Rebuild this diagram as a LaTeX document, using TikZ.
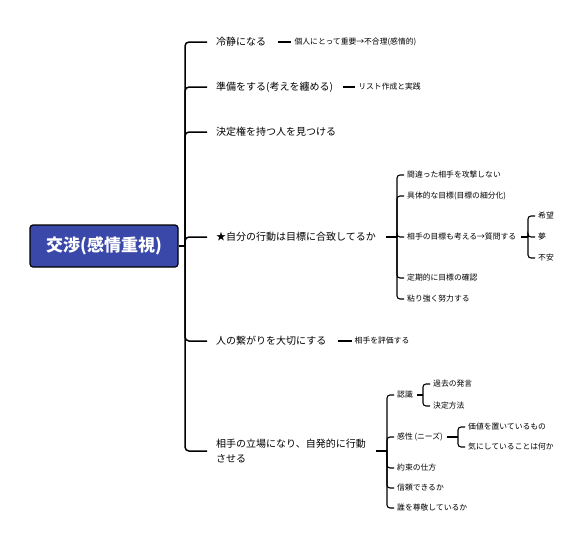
\documentclass[tikz,border=0pt]{standalone}
\usepackage{fontspec}
\setmainfont{Noto Sans CJK JP}
\usetikzlibrary{positioning}
\definecolor{rootblue}{RGB}{58,72,170}

\begin{document}
\begin{tikzpicture}[
  x=1pt, y=-1pt,
  root/.style={rectangle, draw, line width=1.2pt, rounded corners=3pt, fill=rootblue, text=white, minimum width=148pt, minimum height=42pt, font=\fontsize{17}{20}\selectfont\bfseries},
  topic/.style={inner sep=0pt, anchor=west, align=left, font=\fontsize{10}{14.5}\selectfont},
  leaf/.style={inner sep=0pt, anchor=west, font=\fontsize{7.8}{10}\selectfont},
  trunk/.style={line width=1.5pt, rounded corners=4pt},
  twig/.style={line width=1.1pt, rounded corners=3pt}
]
\useasboundingbox (0,0) rectangle (586,544);

\node[root] (root) at (104,246) {交渉(感情重視)};
\coordinate (spine) at (185,246);
\draw[trunk] (root.east) -- (spine);

\node[topic] (calm) at (216,42) {冷静になる};
\draw[trunk] (spine) |- ([xshift=-9pt]calm.west);
\node[leaf, right=28pt of calm] (calm_a) {個人にとって重要→不合理(感情的)};
\draw[twig] ([xshift=12pt]calm.east) -- ([xshift=-3pt]calm_a.west);

\node[topic] (prep) at (216,87) {準備をする(考えを纏める)};
\draw[trunk] (spine) |- ([xshift=-9pt]prep.west);
\node[leaf, right=25pt of prep] (prep_a) {リスト作成と実践};
\draw[twig] ([xshift=10pt]prep.east) -- ([xshift=-3pt]prep_a.west);

\node[topic] (decide) at (216,132) {決定権を持つ人を見つける};
\draw[trunk] (spine) |- ([xshift=-9pt]decide.west);

\node[topic] (goal) at (216,237) {★自分の行動は目標に合致してるか};
\draw[trunk] (spine) |- ([xshift=-9pt]goal.west);
\coordinate (goal_j) at (397,237);
\draw[twig] ([xshift=10pt]goal.east) -- (goal_j);

\node[leaf] (attack) at (407,175) {間違った相手を攻撃しない};
\draw[twig] (goal_j) |- ([xshift=-3pt]attack.west);
\node[leaf] (concrete) at (407,196) {具体的な目標(目標の細分化)};
\draw[twig] (goal_j) |- ([xshift=-3pt]concrete.west);
\node[leaf] (ask) at (407,237) {相手の目標も考える→質問する};
\draw[twig] (goal_j) |- ([xshift=-3pt]ask.west);
\node[leaf] (check) at (407,278) {定期的に目標の確認};
\draw[twig] (goal_j) |- ([xshift=-3pt]check.west);
\node[leaf] (effort) at (407,299) {粘り強く努力する};
\draw[twig] (goal_j) |- ([xshift=-3pt]effort.west);

\coordinate (ask_j) at (528,237);
\draw[twig] ([xshift=5pt]ask.east) -- (ask_j);
\node[leaf] (hope) at (538,216) {希望};
\draw[twig] (ask_j) |- ([xshift=-3pt]hope.west);
\node[leaf] (dream) at (538,237) {夢};
\draw[twig] (ask_j) |- ([xshift=-3pt]dream.west);
\node[leaf] (worry) at (538,258) {不安};
\draw[twig] (ask_j) |- ([xshift=-3pt]worry.west);

\node[topic] (bond) at (216,341) {人の繋がりを大切にする};
\draw[trunk] (spine) |- ([xshift=-9pt]bond.west);
\node[leaf, right=28pt of bond] (bond_a) {相手を評価する};
\draw[twig] ([xshift=11pt]bond.east) -- ([xshift=-3pt]bond_a.west);

\node[topic] (stance) at (216,451) {相手の立場になり、自発的に行動\\させる};
\draw[trunk] (spine) |- ([xshift=-9pt]stance.west);
\coordinate (stance_j) at (387,451);
\draw[twig] ([xshift=10pt]stance.east) -- (stance_j);

\node[leaf] (aware) at (397,395) {認識};
\draw[twig] (stance_j) |- ([xshift=-3pt]aware.west);
\node[leaf] (sense) at (397,437) {感性 (ニーズ)};
\draw[twig] (stance_j) |- ([xshift=-3pt]sense.west);
\node[leaf] (promise) at (397,468) {約束の仕方};
\draw[twig] (stance_j) |- ([xshift=-3pt]promise.west);
\node[leaf] (trust) at (397,488) {信頼できるか};
\draw[twig] (stance_j) |- ([xshift=-3pt]trust.west);
\node[leaf] (respect) at (397,508) {誰を尊敬しているか};
\draw[twig] (stance_j) |- ([xshift=-3pt]respect.west);

\coordinate (aware_j) at (423,395);
\draw[twig] ([xshift=4pt]aware.east) -- (aware_j);
\node[leaf] (past) at (433,384) {過去の発言};
\draw[twig] (aware_j) |- ([xshift=-3pt]past.west);
\node[leaf] (method) at (433,406) {決定方法};
\draw[twig] (aware_j) |- ([xshift=-3pt]method.west);

\coordinate (sense_j) at (458,437);
\draw[twig] ([xshift=4pt]sense.east) -- (sense_j);
\node[leaf] (value) at (468,427) {価値を置いているもの};
\draw[twig] (sense_j) |- ([xshift=-3pt]value.west);
\node[leaf] (concern) at (468,447) {気にしていることは何か};
\draw[twig] (sense_j) |- ([xshift=-3pt]concern.west);

\end{tikzpicture}
\end{document}
